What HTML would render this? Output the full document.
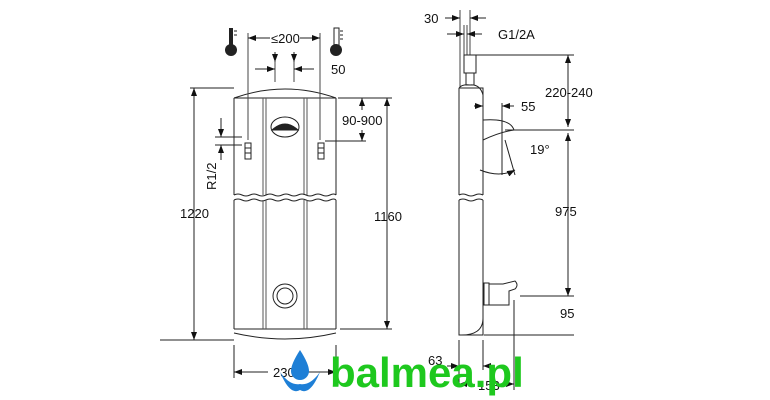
<!DOCTYPE html><html><head><style>body{margin:0;background:#fff}svg{display:block}text{font-family:"Liberation Sans",sans-serif;font-size:13px;fill:#111}</style></head><body>
<svg width="770" height="400" viewBox="0 0 770 400" xmlns="http://www.w3.org/2000/svg">
<defs><marker id="a" markerWidth="8" markerHeight="6" refX="8" refY="3" orient="auto-start-reverse" markerUnits="userSpaceOnUse"><path d="M0,0L8,3L0,6z" fill="#111"/></marker></defs>
<g stroke="#222" stroke-width="1" fill="none">
<path d="M234,98 L234,195 M336,98 L336,195 M234,98 L336,98 M234,98 Q285,80 336,98"/>
<path d="M263,98V195M266,98V195M304,98V195M307,98V195" stroke="#555"/>
<path d="M234,195 q4,-2 8,0 t8,0 t8,0 t8,0 t8,0 t8,0 t8,0 t8,0 t8,0 t8,0 t8,0 t8,0 t6,0"/>
<path d="M234,200 q4,-2 8,0 t8,0 t8,0 t8,0 t8,0 t8,0 t8,0 t8,0 t8,0 t8,0 t8,0 t8,0 t6,0"/>
<path d="M234,200V329M336,200V329M234,329H336M234,333 Q285,345 336,333"/>
<path d="M263,200V329M266,200V329M304,200V329M307,200V329" stroke="#555"/>
<ellipse cx="285" cy="127" rx="14" ry="10"/><path d="M272,130 Q285,118 298,130z" fill="#222"/>
<circle cx="285" cy="296" r="12"/><circle cx="285" cy="296" r="8"/>
<rect x="245" y="143" width="6" height="16" fill="#fff"/><path d="M245,148h6M245,153h6"/>
<rect x="318" y="143" width="6" height="16" fill="#fff"/><path d="M318,148h6M318,153h6"/>
<path d="M248,33V140M320,33V140M275,62V82M294,62V82" stroke="#444"/>
<path d="M248,38H270" marker-start="url(#a)"/><path d="M300,38H320" marker-end="url(#a)"/>
<path d="M255,69H275" marker-end="url(#a)"/><path d="M314,69H294" marker-end="url(#a)"/>
<path d="M275,52V62" marker-end="url(#a)"/><path d="M294,52V62" marker-end="url(#a)"/>
<path d="M190,88H234M160,340H234M338,98H392M340,329H392M325,141H366"/>
<path d="M194,88V340" marker-start="url(#a)" marker-end="url(#a)"/>
<path d="M387,98V329" marker-start="url(#a)" marker-end="url(#a)"/>
<path d="M362,98V110" marker-start="url(#a)"/><path d="M362,130V141" marker-end="url(#a)"/>
<path d="M215,137H242M215,145H242"/><path d="M221,118V137" marker-end="url(#a)"/><path d="M221,160V145" marker-end="url(#a)"/>
<path d="M234,345V378M336,345V378"/><path d="M234,372H268" marker-start="url(#a)"/><path d="M302,372H336" marker-end="url(#a)"/>
<path d="M460,10V88M470,10V55M464,25V55M467,25V55" stroke="#444"/>
<path d="M445,18H460" marker-end="url(#a)"/><path d="M486,18H470" marker-end="url(#a)"/>
<path d="M447,34H464" marker-end="url(#a)"/><path d="M482,34H467" marker-end="url(#a)"/>
<rect x="464" y="55" width="12" height="18" fill="#fff"/><rect x="466" y="73" width="8" height="12"/>
<path d="M459,88H483V195M459,88V195M459,88 Q462,84 470,85 Q480,84 483,95"/>
<path d="M459,195 q4,-2 8,0 t8,0 t8,0M459,200 q4,-2 8,0 t8,0 t8,0"/>
<path d="M459,200V335H483V200M459,320 V335 Q483,336 483,318"/>
<path d="M483,120 Q510,118 514,130 Q500,132 483,140"/>
<path d="M484,283h5v22h-5zM489,284h14l12,-3q4,4 0,8l-6,2v14h-20z"/>
<path d="M476,55H574M505,130H574M520,296H574M484,335H574"/>
<path d="M568,55V127" marker-start="url(#a)" marker-end="url(#a)"/>
<path d="M568,133V296" marker-start="url(#a)" marker-end="url(#a)"/>
<path d="M502,103V175"/><path d="M474,106H483" marker-end="url(#a)"/><path d="M514,106H502" marker-end="url(#a)"/>
<path d="M505,140L515,175"/><path d="M480,170 Q500,178 515,170" marker-end="url(#a)"/>
<path d="M459,340V385M483,340V370M514,300V390"/>
<path d="M447,366H459" marker-end="url(#a)"/><path d="M495,366H483" marker-end="url(#a)"/>
<path d="M470,384H459" marker-end="url(#a)"/><path d="M500,384H514" marker-end="url(#a)"/>
</g>
<g fill="#222"><rect x="229" y="28" width="4" height="20"/><circle cx="231" cy="50" r="6"/></g>
<g stroke="#222" fill="none"><rect x="334" y="28" width="5" height="18"/><path d="M340,31h3M340,35h3M340,39h3M234,31h3M234,35h3"/></g><circle cx="336" cy="50" r="6" fill="#222"/>
<text x="271" y="43">≤200</text><text x="331" y="74">50</text>
<text x="342" y="125">90-900</text><text x="180" y="218">1220</text><text x="374" y="221">1160</text>
<text x="216" y="190" transform="rotate(-90 216 190)">R1/2</text>
<text x="273" y="377">230</text>
<text x="424" y="23">30</text><text x="498" y="39">G1/2A</text><text x="545" y="97">220-240</text>
<text x="521" y="111">55</text><text x="530" y="154">19°</text><text x="555" y="216">975</text>
<text x="560" y="318">95</text><text x="428" y="365">63</text><text x="478" y="390">153</text>
<path d="M300,350 Q309,364 309,371 A9,9 0 0 1 291,371 Q291,364 300,350z" fill="#1e7fd6"/>
<path d="M280,372 Q290,396 300,390 Q310,396 320,372 Q310,386 300,384 Q290,386 280,372z" fill="#1e7fd6"/>
<text x="330" y="387" style="font-size:42px;font-weight:bold;fill:#1ec81e">balmea.pl</text>
</svg></body></html>
